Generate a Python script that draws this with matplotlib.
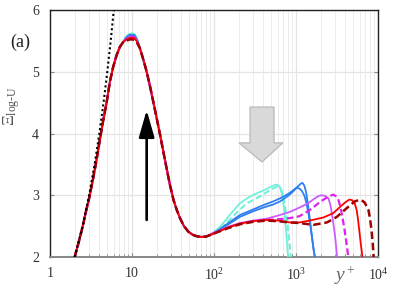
import numpy as np
import matplotlib
matplotlib.use('Agg')
import matplotlib.pyplot as plt
from matplotlib.patches import Polygon
from matplotlib.ticker import FixedLocator, NullFormatter

plt.rcParams['font.family'] = ['Liberation Serif', 'DejaVu Serif']
plt.rcParams['mathtext.fontset'] = 'custom'
plt.rcParams['mathtext.rm'] = 'Liberation Serif'
plt.rcParams['mathtext.it'] = 'Liberation Serif:italic'

# near-wall part, shared by all cases
yp_left = [2.0, 2.25, 2.5, 2.75, 3.0, 3.3, 3.64, 4.0, 4.4, 4.9, 5.4, 5.9, 6.5, 7.1, 7.8]
xi_left = [2.0, 2.25, 2.49, 2.74, 2.95, 3.22, 3.52, 3.85, 4.17, 4.5, 4.85, 5.08, 5.27, 5.4, 5.48]
# peak zone, value differs slightly per case
yp_peak = [8.5, 9.2, 9.9, 10.7, 11.5]
peak_cyan = [5.57, 5.61, 5.62, 5.61, 5.54]
peak_blue = [5.55, 5.59, 5.6, 5.59, 5.52]
peak_mag = [5.53, 5.56, 5.57, 5.56, 5.5]
peak_red = [5.52, 5.545, 5.55, 5.54, 5.49]
peak_dred = [5.5, 5.52, 5.525, 5.515, 5.47]
yp_right = [12.5, 13.8, 15.1, 16.5, 18.0, 20.0, 22.0, 24.0, 26.5, 29.0, 32.0, 35.0,
            38.5, 43.0, 48.7, 55.0, 62.0, 70.0, 80.0]
xi_right = [5.38, 5.19, 5.0, 4.78, 4.54, 4.25, 3.98, 3.72, 3.43, 3.17, 2.93, 2.77,
            2.63, 2.5, 2.41, 2.36, 2.335, 2.325, 2.33]

# outer part per case
cyan_yp = [92, 110, 130, 160, 207, 260, 331, 420, 500, 560, 600, 640, 680, 710, 740, 770, 800]
cyan_xi = [2.37, 2.45, 2.55, 2.7, 2.87, 2.96, 3.03, 3.09, 3.14, 3.17, 3.17, 3.13, 3.0, 2.82, 2.58, 2.3, 2.0]
cyan_d_yp = [92, 110, 130, 160, 207, 260, 363, 450, 527, 590, 640, 680, 720, 760, 800, 835, 865]
cyan_d_xi = [2.36, 2.42, 2.5, 2.62, 2.77, 2.88, 2.98, 3.06, 3.11, 3.14, 3.12, 3.05, 2.9, 2.68, 2.45, 2.22, 2.0]
blue1_yp = [92, 120, 150, 207, 300, 400, 527, 640, 800, 923, 1050, 1150, 1200, 1260,
            1330, 1400, 1480, 1560, 1640, 1700]
blue1_xi = [2.36, 2.46, 2.55, 2.68, 2.77, 2.84, 2.9, 2.95, 3.02, 3.08, 3.14, 3.19, 3.2, 3.16,
            3.05, 2.85, 2.6, 2.35, 2.12, 2.0]
blue2_yp = [92, 120, 150, 207, 300, 400, 527, 640, 800, 920, 1016, 1100, 1180, 1260,
            1340, 1420, 1500, 1580, 1650, 1700]
blue2_xi = [2.36, 2.45, 2.53, 2.65, 2.74, 2.8, 2.85, 2.9, 2.99, 3.06, 3.12, 3.11, 3.07, 3.0,
            2.88, 2.7, 2.5, 2.28, 2.1, 2.0]
mag_yp = [100, 150, 207, 300, 438, 600, 843, 1100, 1406, 1700, 1900, 2050, 2250, 2490,
          2620, 2740, 2870, 2990, 3100, 3170]
mag_xi = [2.39, 2.49, 2.55, 2.59, 2.62, 2.67, 2.73, 2.8, 2.87, 2.95, 2.99, 3.0, 2.99, 2.95,
          2.85, 2.71, 2.52, 2.35, 2.14, 2.0]
mag_d_yp = [100, 150, 207, 300, 438, 600, 843, 1100, 1475, 2000, 2500, 2849, 3100, 3300,
            3500, 3700, 3900, 4150, 4350]
mag_d_xi = [2.39, 2.48, 2.54, 2.58, 2.6, 2.61, 2.63, 2.66, 2.76, 2.9, 2.98, 3.01, 2.98, 2.92,
            2.8, 2.63, 2.45, 2.2, 2.0]
red_yp = [100, 150, 207, 300, 438, 600, 843, 1100, 1475, 2163, 2849, 3440, 3950, 4470,
          4850, 5200, 5500, 5720, 5900, 6090, 6300, 6450]
red_xi = [2.38, 2.48, 2.54, 2.58, 2.6, 2.59, 2.56, 2.56, 2.59, 2.64, 2.71, 2.81, 2.88, 2.93,
          2.92, 2.87, 2.76, 2.6, 2.44, 2.28, 2.12, 2.0]
dred_yp = [100, 150, 207, 300, 438, 600, 843, 1110, 1625, 2390, 3150, 4150, 5200, 5800,
           6310, 6900, 7650, 8050, 8420, 8650, 8840]
dred_xi = [2.38, 2.47, 2.53, 2.57, 2.59, 2.58, 2.56, 2.55, 2.52, 2.56, 2.65, 2.79, 2.9, 2.92,
           2.92, 2.88, 2.76, 2.6, 2.38, 2.2, 2.0]

# viscous sublayer line Xi = y+
sub_yp = [2.0, 2.5, 3.0, 3.5, 4.0, 4.5, 5.0, 5.5, 6.0]
sub_xi = [2.0, 2.5, 3.0, 3.5, 4.0, 4.5, 5.0, 5.5, 6.0]


def full_curve(peak, yp_out, xi_out):
    yp = yp_left + yp_peak + yp_right + yp_out
    xi = xi_left + peak + xi_right + xi_out
    return yp, xi


fig = plt.figure(figsize=(3.98, 2.9), dpi=100)
ax = fig.add_axes([0.1256, 0.1138, 0.8241, 0.8517])

curves = [
    (peak_cyan, cyan_yp, cyan_xi, '#70f0da', '-', 1.3),
    (peak_cyan, cyan_d_yp, cyan_d_xi, '#70f0da', (0, (3, 1.5)), 1.5),
    (peak_blue, blue1_yp, blue1_xi, '#2f7ff0', '-', 1.3),
    (peak_blue, blue2_yp, blue2_xi, '#2f7ff0', '-', 1.3),
    (peak_mag, mag_yp, mag_xi, '#cc5cff', '-', 1.3),
    (peak_mag, mag_d_yp, mag_d_xi, '#dd22ee', (0, (3, 1.5)), 1.6),
    (peak_red, red_yp, red_xi, '#ff0000', '-', 1.3),
    (peak_dred, dred_yp, dred_xi, '#a00000', (0, (3, 1.5)), 1.8),
]
for peak, yo, xo, col, ls, lw in curves:
    yp, xi = full_curve(peak, yo, xo)
    ax.plot(yp, xi, color=col, ls=ls, lw=lw, zorder=3)

ax.plot(sub_yp, sub_xi, color='black', ls=(0, (1, 1.3)), lw=1.5, zorder=3)

ax.set_xscale('log')
ax.set_xlim(1, 1e4)
ax.set_ylim(2, 6)

ax.set_xticks([1, 10, 100, 1000, 10000])
ax.set_xticklabels(['1', '10', r'$10^2$', r'$10^3$', r'$10^4$'])
minors = [m * d for d in [1, 10, 100, 1000] for m in range(2, 10)]
ax.xaxis.set_minor_locator(FixedLocator(minors))
ax.xaxis.set_minor_formatter(NullFormatter())
ax.set_yticks([2, 3, 4, 5, 6])

ax.grid(True, which='major', color='#e4e4e4', lw=0.9, zorder=0)
ax.grid(True, which='minor', axis='x', color='#ececec', lw=0.7, zorder=0)
ax.set_axisbelow(True)

ax.tick_params(axis='both', which='major', direction='in', length=3, color='#888888',
               labelsize=10, labelcolor='#333333', right=True)
ax.tick_params(axis='x', which='minor', direction='in', length=2, color='#888888')
ax.tick_params(axis='x', pad=7)
ax.tick_params(axis='y', pad=8)
for side in ['left', 'top', 'right']:
    ax.spines[side].set_color('#222222')
    ax.spines[side].set_linewidth(1.0)
ax.spines['bottom'].set_color('#888888')
ax.spines['bottom'].set_linewidth(1.4)

# black arrow (increasing peak)
ax.annotate('', xy=(15.1, 4.38), xytext=(15.1, 2.6),
            arrowprops=dict(arrowstyle='-|>,head_length=1.65,head_width=0.47',
                            mutation_scale=10, lw=1.9, color='black',
                            shrinkA=0, shrinkB=0), zorder=4)

# gray block arrow (outer peak decreasing)
arrow = Polygon([(0.61, 0.607), (0.683, 0.607), (0.683, 0.462), (0.71, 0.462),
                 (0.6465, 0.385), (0.576, 0.462), (0.61, 0.462)],
                closed=True, transform=ax.transAxes, facecolor='#d9d9d9',
                edgecolor='#bdbdbd', lw=1.0, zorder=2)
ax.add_patch(arrow)

ax.set_ylabel(r'$\Xi_{\mathrm{log\text{-}U}}$', fontsize=12, color='#555555')
ax.yaxis.set_label_coords(-0.085, 0.61)
fig.text(0.025, 0.855, '(a)', fontsize=13, color='#222222', va='center')
fig.text(0.84, 0.05, r'$y^+$', fontsize=14, color='#666666', va='center', style='italic',
         family='Liberation Serif')

fig.savefig('out.png', dpi=100)
